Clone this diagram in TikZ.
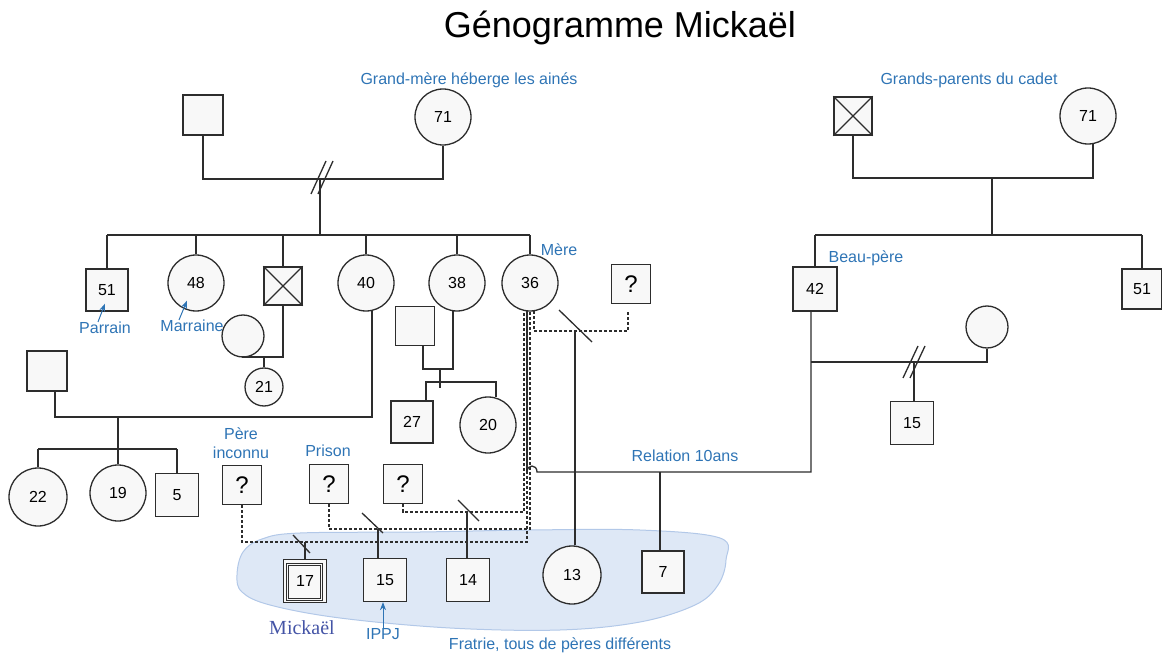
\documentclass[tikz,border=0pt]{standalone}
\usepackage{fontspec}
\setmainfont{Liberation Sans}
\newfontfamily\serifmk{Liberation Serif}
\usetikzlibrary{calc,arrows.meta}
\definecolor{labblue}{RGB}{46,116,181}
\definecolor{mkblue}{RGB}{68,84,166}
\definecolor{blobfill}{RGB}{222,232,246}
\definecolor{blobline}{RGB}{178,200,232}
\definecolor{ink}{RGB}{45,45,45}
\definecolor{shapefill}{RGB}{248,248,248}
\begin{document}
\begin{tikzpicture}[x=1pt,y=-1pt,
  sq/.style={draw=ink, fill=shapefill, line width=1.3pt, minimum size=#1, inner sep=0pt, font=\fontsize{16}{18}\selectfont},
  sq/.default=40pt,
  pc/.style={circle, draw=ink, fill=shapefill, line width=1.3pt, minimum size=#1, inner sep=0pt, font=\fontsize{16}{18}\selectfont},
  pc/.default=56pt,
  qm/.style={sq=39pt, font=\fontsize{24}{26}\selectfont},
  link/.style={draw=ink, line width=1.3pt},
  dlink/.style={draw=ink, line width=1.3pt, dash pattern=on 3pt off 2pt},
  lab/.style={text=labblue, font=\fontsize{16}{19}\selectfont, inner sep=0pt},
  larrow/.style={draw=labblue, line width=1pt, -{Stealth[length=8pt,width=6pt]}},
]
\useasboundingbox (0,0) rectangle (1162,655);

% highlighted sibling area
\draw[fill=blobfill, draw=blobline, line width=1pt] plot[smooth cycle, tension=0.6] coordinates {
 (237,575) (243,552) (262,539) (300,533) (420,532) (530,530) (640,530) (720,538)
 (726,560) (718,585) (695,605) (640,622) (560,630) (450,628) (340,618) (270,605) (242,592)};

% title and top labels
\node[font=\fontsize{36}{40}\selectfont] (title) at (620,28) {Génogramme Mickaël};
\node[lab] (lgm) at (469,80) {Grand-mère héberge les ainés};
\node[lab] (lgp) at (969,80) {Grands-parents du cadet};

% ---------- left grandparents ----------
\node[sq] (gfL) at (203,115) {};
\node[pc] (gmL) at (443,117) {71};
\coordinate (cL) at (320,179);
\draw[link] (gfL.south) |- (cL) -| (gmL.south);
\draw[link] ($(cL)+(-9,15)$) -- ($(cL)+(6,-18)$) ($(cL)+(-2,15)$) -- ($(cL)+(13,-18)$);
\coordinate (sbL) at (320,235);
\draw[link] (cL) -- (sbL);

\node[sq=42pt] (u51) at (107,290) {51};
\node[pc] (a48) at (196,283) {48};
\node[sq=38pt] (ux) at (283,286) {};
\draw[link] (ux.north west) -- (ux.south east) (ux.north east) -- (ux.south west);
\node[pc] (a40) at (366,283) {40};
\node[pc] (a38) at (457,283) {38};
\node[pc] (m36) at (530,283) {36};
\draw[link] (u51.north |- sbL) -- (m36.north |- sbL);
\foreach \n in {u51,a48,ux,a40,a38,m36} \draw[link] (\n.north) -- (\n.north |- sbL);

\node[lab] (lmere) at (559,250) {Mère};
\node[lab] (lparrain) at (105,328) {Parrain};
\draw[larrow] ($(lparrain.north)+(-7,0)$) -- ($(u51.south)+(-2,-8)$);
\node[lab] (lmarraine) at (192,326) {Marraine};
\draw[larrow] ($(lmarraine.north)+(-13,0)$) -- ($(a48.south)+(-9,-11)$);

% partner of deceased son
\node[pc=42pt] (w1) at (243,336) {};
\coordinate (c21) at (264,357);
\draw[link] (w1.south) -- (w1.south |- c21) -- (ux.south |- c21) -- (ux.south);
\node[pc=38pt] (a21) at (264,387) {21};
\draw[link] (c21) -- (a21.north);

% partner of 40
\node[sq] (p40) at (47,371) {};
\coordinate (p40b) at ($(p40.south)+(8,0)$);
\coordinate (c40) at (118,417);
\draw[link] (p40b) |- (c40) -| (a40.-78);
\coordinate (sb40) at (118,449);
\node[pc=58pt] (a22) at (38,497) {22};
\node[pc] (a19) at (118,493) {19};
\node[sq=43pt] (u5) at (177,495) {5};
\draw[link] (c40) -- (a19.north);
\draw[link] (a22.north |- sb40) -- (u5.north |- sb40);
\draw[link] (a22.north) -- (a22.north |- sb40);
\draw[link] (u5.north) -- (u5.north |- sb40);

% partner of 38
\node[sq=39pt] (p38) at (415,326) {};
\coordinate (p38b) at ($(p38.south)+(8,0)$);
\coordinate (c38) at (440,369);
\draw[link] (p38b) |- (c38) -| (a38.-98);
\coordinate (sb38) at (440,382);
\draw[link] (c38) -- ($(sb38)+(0,6)$);
\node[sq=42pt] (u27) at (412,422) {27};
\node[pc] (a20) at (488,425) {20};
\coordinate (u27t) at ($(u27.north)+(14,0)$);
\draw[link] (u27t) |- (sb38) -| (a20.74);

% ---------- mother's relations ----------
\node[qm] (q0) at (631,284) {?};
\coordinate (c0) at (575,331);
\coordinate (m0) at (m36.-82);
\coordinate (q0b) at ($(q0.south)+(-3,7)$);
\draw[dlink] (m0) |- (c0) -| (q0b);
\node[pc=58pt] (a13) at (572,575) {13};
\draw[link] (c0) -- (c0 |- a13.north);
\draw[link] ($(c0)+(-16,-21)$) -- ($(c0)+(17,11)$);

% step-father relation
\node[sq=44pt] (u42) at (815,289) {42};
\coordinate (u42b) at ($(u42.south)+(-4,0)$);
\coordinate (cr) at (660,472);
\coordinate (mS) at (m36.-96);
\coordinate (hopL) at (mS |- cr);
\coordinate (hopR) at ($(hopL)+(10,0)$);
\draw[link] (mS) -- (hopL);
\draw[link] (u42b) -- (u42b |- cr) -- (hopR) .. controls ($(hopR)+(0,-8)$) and ($(hopL)+(0,-8)$) .. (hopL);
\node[sq=42pt] (u7) at (663,572) {7};
\draw[link] (cr) -- (cr |- u7.north);
\node[lab] (lrel) at (685,456) {Relation 10ans};

% fathers of the siblings
\node[qm] (q1) at (242,485) {?};
\node[qm] (q2) at (329,484) {?};
\node[qm] (q3) at (403,484) {?};
\node[lab, align=center] (lpi) at (241,443) {Père\\inconnu};
\node[lab] (lprison) at (328,451) {Prison};

\coordinate (c1) at (305,542);
\coordinate (c2) at (378,529);
\coordinate (c3) at (467,512);
\coordinate (jQ1) at (mS |- c1);
\coordinate (jQ2) at (m36.south |- c2);
\coordinate (m3a) at (m36.-102);
\coordinate (jQ3) at (m3a |- c3);
\draw[dlink] (q1.south) |- (jQ1) -- (mS);
\draw[dlink] (q2.south) |- (jQ2) -- (m36.south);
\draw[dlink] (q3.south) |- (jQ3) -- (m3a);

\node[sq=43pt] (s17) at (305,581) {17};
\draw[link, line width=1pt] ($(s17.north west)+(4,5)$) rectangle ($(s17.south east)+(-5,-3)$);
\draw[link, line width=1pt] ($(s17.north west)+(6,7)$) rectangle ($(s17.south east)+(-7,-5)$);
\draw[link] (c1) -- (s17.north);
\draw[link] ($(c1)+(-12,-7)$) -- ($(c1)+(5,11)$);

\node[sq=43pt] (s15) at (385,580) {15};
\draw[link] (c2) -- (c2 |- s15.north);
\draw[link] ($(c2)+(-16,-16)$) -- ($(c2)+(5,4)$);

\node[sq=43pt] (s14) at (468,580) {14};
\draw[link] (c3) -- (c3 |- s14.north);
\draw[link] ($(c3)+(-9,-12)$) -- ($(c3)+(12,9)$);

\node[text=mkblue, font=\serifmk\fontsize{20}{22}\selectfont, inner sep=0pt] (lmk) at (302,628) {Mickaël};
\node[lab] (lippj) at (383,634) {IPPJ};
\draw[larrow] (lippj.north) -- (lippj.north |- s15.south);
\node[lab] (lfrat) at (560,645) {Fratrie, tous de pères différents};

% ---------- right grandparents ----------
\node[sq=38pt] (gfR) at (853,116) {};
\draw[link] (gfR.north west) -- (gfR.south east) (gfR.north east) -- (gfR.south west);
\node[pc] (gmR) at (1088,116) {71};
\coordinate (cR) at (992,178);
\draw[link] (gfR.south) |- (cR) -| (gmR.-80);
\coordinate (sbR) at (992,235);
\draw[link] (cR) -- (sbR);
\node[sq=40pt] (u51b) at (1142,289) {51};
\draw[link] (u42.north |- sbR) -- (u51b.north |- sbR);
\draw[link] (u42.north) -- (u42.north |- sbR);
\draw[link] (u51b.north) -- (u51b.north |- sbR);
\node[lab] (lbp) at (866,258) {Beau-père};

\node[pc=42pt] (w2) at (987,327) {};
\coordinate (c42) at (914,362);
\draw[link] (u42b |- c42) -| (w2.south);
\draw[link] ($(c42)+(-11,16)$) -- ($(c42)+(4,-16)$) ($(c42)+(-4,16)$) -- ($(c42)+(11,-16)$);
\node[sq=43pt] (s15b) at (912,423) {15};
\draw[link] (c42) -- (c42 |- s15b.north);
\end{tikzpicture}
\end{document}
